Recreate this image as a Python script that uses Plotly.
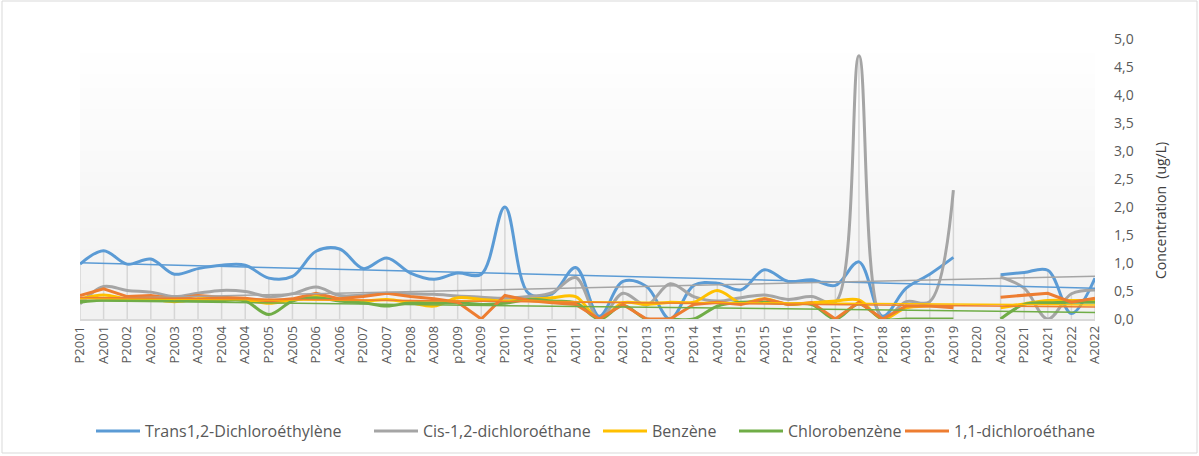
import plotly.graph_objects as go
import numpy as np

categories = ["P2001", "A2001", "P2002", "A2002", "P2003", "A2003", "P2004", "A2004",
              "P2005", "A2005", "P2006", "A2006", "P2007", "A2007", "P2008", "A2008",
              "p2009", "A2009", "P2010", "A2010", "P2011", "A2011", "P2012", "A2012",
              "P2013", "A2013", "P2014", "A2014", "P2015", "A2015", "P2016", "A2016",
              "P2017", "A2017", "P2018", "A2018", "P2019", "A2019", "P2020", "A2020",
              "P2021", "A2021", "P2022", "A2022"]

trans_dce = [0.98, 1.22, 0.98, 1.07, 0.80, 0.90, 0.96, 0.96, 0.73, 0.76, 1.21, 1.25,
             0.90, 1.09, 0.82, 0.71, 0.82, 0.80, 2.00, 0.46, 0.45, 0.92, 0.05, 0.67,
             0.58, 0.00, 0.60, 0.64, 0.52, 0.88, 0.67, 0.70, 0.60, 1.02, 0.05, 0.55,
             0.80, 1.10, None, 0.79, 0.83, 0.87, 0.10, 0.73]
cis_dca = [0.27, 0.58, 0.51, 0.48, 0.40, 0.46, 0.51, 0.49, 0.40, 0.45, 0.57, 0.42,
           0.43, 0.46, 0.45, 0.44, 0.41, 0.39, 0.37, 0.40, 0.47, 0.74, 0.00, 0.46,
           0.25, 0.63, 0.40, 0.32, 0.38, 0.43, 0.35, 0.40, 0.30, 4.70, 0.00, 0.31,
           0.31, 2.30, None, 0.75, 0.55, 0.00, 0.45, 0.52]
benzene = [0.36, 0.43, 0.36, 0.36, 0.31, 0.36, 0.36, 0.34, 0.28, 0.34, 0.40, 0.36,
           0.32, 0.35, 0.29, 0.23, 0.38, 0.35, 0.32, 0.35, 0.38, 0.40, 0.00, 0.29,
           0.26, 0.30, 0.30, 0.51, 0.29, 0.36, 0.26, 0.29, 0.32, 0.34, 0.00, 0.20,
           0.23, 0.23, None, 0.20, 0.27, 0.33, 0.33, 0.33]
chlorobenzene = [0.30, 0.34, 0.33, 0.33, 0.33, 0.33, 0.33, 0.32, 0.08, 0.32, 0.38, 0.32,
                 0.29, 0.23, 0.29, 0.29, 0.29, 0.26, 0.28, 0.35, 0.32, 0.29, 0.00, 0.24,
                 0.00, 0.00, 0.00, 0.23, 0.30, 0.30, 0.27, 0.26, 0.00, 0.27, 0.00, 0.00,
                 0.00, 0.00, None, 0.00, 0.26, 0.29, 0.30, 0.30]
dca_11 = [0.42, 0.54, 0.40, 0.42, 0.36, 0.42, 0.39, 0.37, 0.32, 0.36, 0.46, 0.36,
          0.40, 0.46, 0.40, 0.36, 0.30, 0.00, 0.42, 0.33, 0.29, 0.26, 0.00, 0.26,
          0.00, 0.00, 0.26, 0.30, 0.26, 0.36, 0.26, 0.29, 0.00, 0.30, 0.00, 0.23,
          0.23, 0.20, None, 0.39, 0.43, 0.46, 0.30, 0.37]

series_names = ["Trans1,2-Dichloroéthylène", "Cis-1,2-dichloroéthane", "Benzène",
                "Chlorobenzène", "1,1-dichloroéthane"]
series_values = [trans_dce, cis_dca, benzene, chlorobenzene, dca_11]
series_colors = ["#5B9BD5", "#A5A5A5", "#FFC000", "#70AD47", "#ED7D31"]
series_shapes = ["spline", "spline", "spline", "spline", "linear"]
legend_px = [97, 375, 604, 740, 906]
y_title = "Concentration  (ug/L)"

W, H = 1199, 456
L, R, T, B = 80, 104, 39, 137
pw, ph = W - L - R, H - T - B

fig = go.Figure()

# drop lines (from max of all series at each category down to axis)
dx, dy = [], []
for i, c in enumerate(categories):
    vals = [s[i] for s in series_values if s[i] is not None]
    if vals:
        dx += [c, c, None]
        dy += [0, max(vals), None]
fig.add_trace(go.Scatter(x=dx, y=dy, mode="lines", line=dict(color="#d6d6d6", width=1.5),
                         showlegend=False, hoverinfo="skip"))

for k, (name, vals, col, shp) in enumerate(zip(series_names, series_values, series_colors, series_shapes)):
    fig.add_trace(go.Scatter(
        x=categories, y=vals, mode="lines", name=name,
        line=dict(color=col, width=3, shape=shp, smoothing=1),
        connectgaps=False,
        legend="legend" if k == 0 else f"legend{k+1}",
    ))

# linear trendlines
idx = np.arange(len(categories))
for name, vals, col in zip(series_names, series_values, series_colors):
    xi = np.array([i for i, v in enumerate(vals) if v is not None], dtype=float)
    yi = np.array([v for v in vals if v is not None], dtype=float)
    m, b = np.polyfit(xi, yi, 1)
    fig.add_trace(go.Scatter(x=categories, y=m * idx + b, mode="lines",
                             line=dict(color=col, width=1.5), showlegend=False,
                             hoverinfo="skip"))

# gradient plot background
nb = 40
shapes = []
for j in range(nb):
    t = j / (nb - 1)
    g = int(round(241 + (255 - 241) * t))
    shapes.append(dict(type="rect", xref="paper", yref="paper", x0=0, x1=1,
                       y0=j / nb, y1=(j + 1) / nb + 0.002, line=dict(width=0),
                       fillcolor=f"rgb({g},{g},{g})", layer="below"))
# chart border
shapes.append(dict(type="rect", xref="paper", yref="paper",
                   x0=(2 - L) / pw, x1=(W - 2 - L) / pw,
                   y0=-(H - 3 - T - ph) / ph,
                   y1=(ph + T - 1) / ph,
                   line=dict(color="#d9d9d9", width=1), fillcolor="rgba(0,0,0,0)",
                   layer="below"))

font_fam = "Open Sans, Liberation Sans, Arial, sans-serif"
legend_y = -(431 - (T + ph)) / ph

layout_legends = {}
for k, px in enumerate(legend_px):
    key = "legend" if k == 0 else f"legend{k+1}"
    layout_legends[key] = dict(
        x=(px - L - 6) / pw, y=legend_y, xanchor="left", yanchor="middle",
        orientation="h", bgcolor="rgba(0,0,0,0)", itemwidth=44,
        font=dict(family=font_fam, size=16, color="#595959"),
    )

annotations = [dict(
    text=y_title.replace("  ", "&nbsp; "), textangle=-90, showarrow=False,
    xref="paper", yref="paper",
    x=(1160 - L) / pw, y=(T + ph - 211) / ph, xanchor="center", yanchor="middle",
    font=dict(family=font_fam, size=14, color="#404040"),
)]

fig.update_layout(
    width=W, height=H, autosize=False,
    margin=dict(l=L, r=R, t=T, b=B, autoexpand=False),
    paper_bgcolor="white", plot_bgcolor="white",
    separators=", ",
    font=dict(family=font_fam, size=13, color="#595959"),
    shapes=shapes,
    annotations=annotations,
    xaxis=dict(type="category", categoryorder="array", categoryarray=categories,
               range=[0, len(categories) - 1], tickangle=-90, automargin=False,
               showgrid=False, zeroline=False, showline=True, linecolor="#d9d9d9",
               linewidth=1.5, ticks="", tickfont=dict(size=13, color="#595959")),
    yaxis=dict(side="right", range=[0, 5], dtick=0.5, tickformat=".1f",
               showgrid=False, zeroline=False, showline=False, ticks="",
               ticklabelstandoff=18, automargin=False,
               tickfont=dict(size=14, color="#595959")),
    **layout_legends,
)

fig.write_html("out.html", config={"displayModeBar": False},
               post_script="document.body.style.margin='0';document.body.style.overflow='hidden';")
